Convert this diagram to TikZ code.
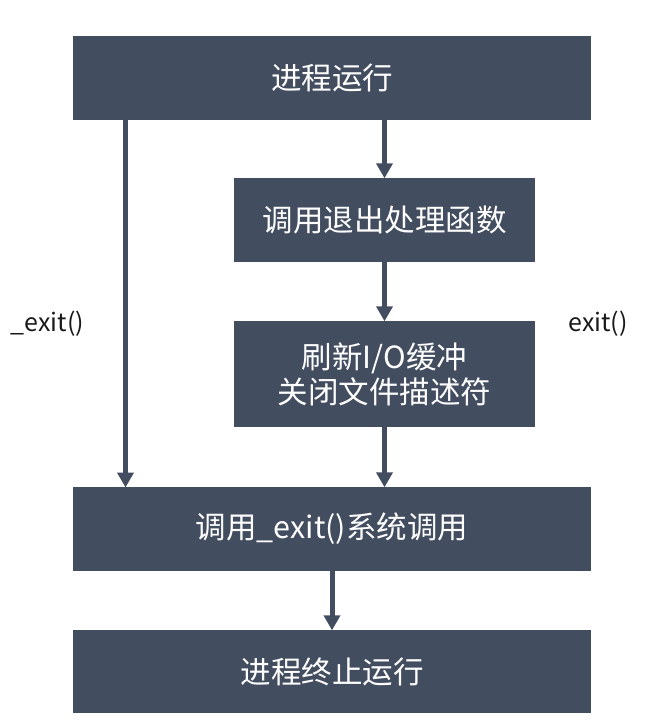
\documentclass[tikz,border=0pt]{standalone}
\usepackage{fontspec}
\setmainfont{Noto Sans CJK SC}
\usetikzlibrary{arrows.meta}
\definecolor{boxc}{RGB}{67,77,96}
\definecolor{labc}{RGB}{25,25,25}
\tikzset{
  box/.style={fill=boxc, draw=none, text=white, font=\fontsize{30.5}{35}\selectfont, align=center, inner sep=0pt},
  conn/.style={draw=boxc, line width=5pt, -{Triangle[width=16pt,length=15pt]}, shorten >=-0.5pt},
  lab/.style={text=labc, font=\fontsize{25}{30}\selectfont, inner sep=0pt}
}
\begin{document}
\begin{tikzpicture}[x=1pt,y=-1pt]
\useasboundingbox (0,0) rectangle (646,726);
\node[box, minimum width=518pt, minimum height=84pt] (run) at (332,77.5) {进程运行};
\node[box, minimum width=301pt, minimum height=84pt] (handler) at (384.5,220) {调用退出处理函数};
\node[box, minimum width=301pt, minimum height=106pt] (flush) at (384.5,374) {刷新I/O缓冲\\关闭文件描述符};
\node[box, minimum width=518pt, minimum height=84pt] (sys) at (332,529) {调用\_exit()系统调用};
\node[box, minimum width=518pt, minimum height=83pt] (term) at (332,671.5) {进程终止运行};
\coordinate (lt) at (125.5,119.5);
\coordinate (lb) at (125.5,487);
\draw[conn] (run.south -| handler.north) -- (handler.north);
\draw[conn] (handler.south) -- (flush.north);
\draw[conn] (flush.south) -- (flush.south |- sys.north);
\draw[conn] (lt) -- (lb);
\draw[conn] (sys.south) -- (term.north);
\node[lab] (l1) at (47.5,324) {\_exit()};
\node[lab] (l2) at (598,324) {exit()};
\end{tikzpicture}
\end{document}
